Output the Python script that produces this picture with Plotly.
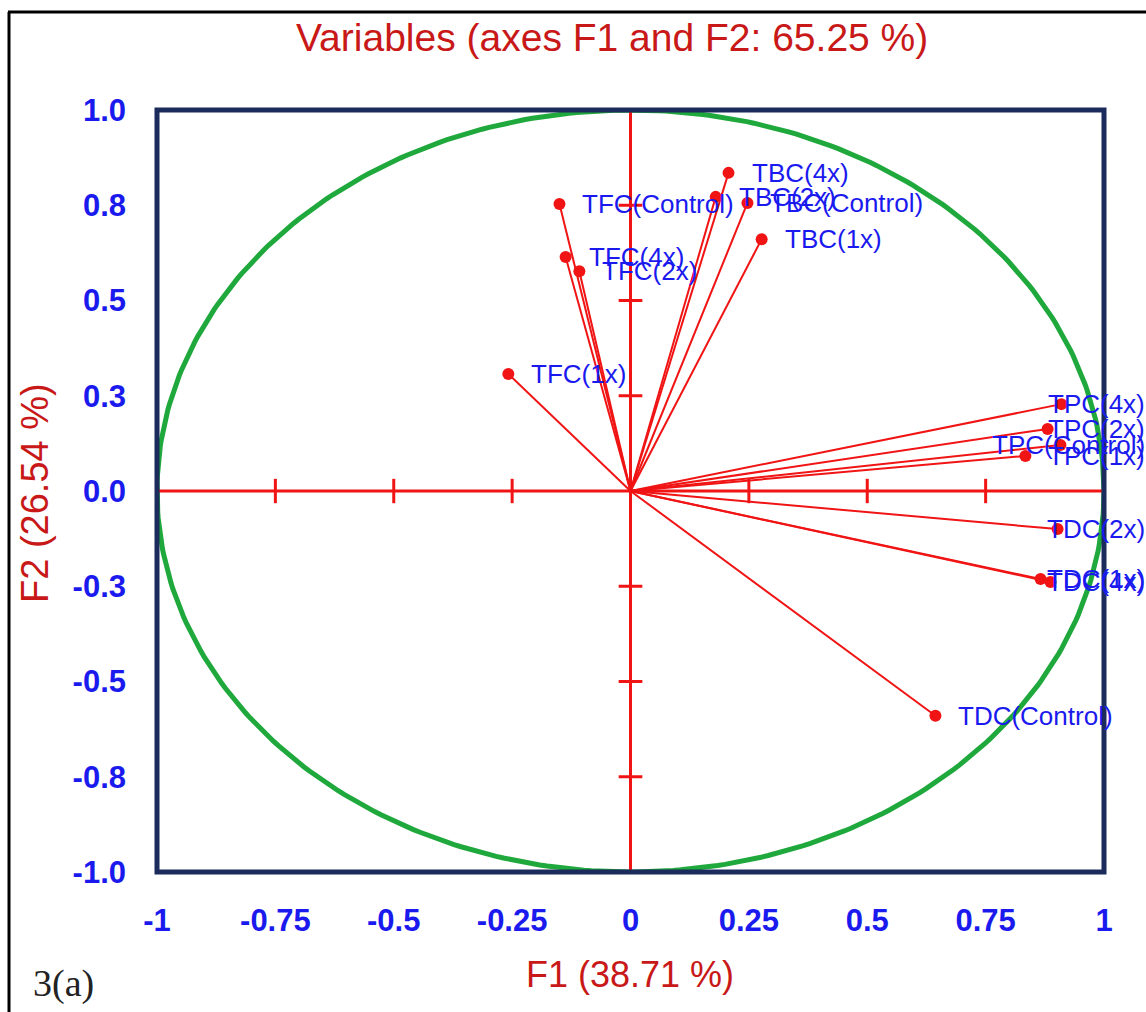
import plotly.graph_objects as go
import numpy as np

# ---- data ----
variables = ["TBC(4x)", "TBC(2x)", "TBC(Control)", "TBC(1x)",
             "TFC(Control)", "TFC(4x)", "TFC(2x)", "TFC(1x)",
             "TPC(4x)", "TPC(2x)", "TPC(Control)", "TPC(1x)",
             "TDC(2x)", "TDC(1x)", "TDC(4x)", "TDC(Control)"]
f1 = [0.207, 0.180, 0.247, 0.277,
      -0.150, -0.137, -0.108, -0.258,
      0.910, 0.881, 0.908, 0.834,
      0.902, 0.866, 0.887, 0.644]
f2 = [0.835, 0.772, 0.756, 0.661,
      0.753, 0.614, 0.577, 0.307,
      0.228, 0.163, 0.121, 0.092,
      -0.100, -0.231, -0.239, -0.590]
edge_labels = ["TPC(4x)", "TPC(2x)", "TPC(Control)", "TPC(1x)",
               "TDC(2x)", "TDC(1x)", "TDC(4x)"]

x_ticks = [-1, -0.75, -0.5, -0.25, 0, 0.25, 0.5, 0.75, 1]
x_ticktext = ["-1", "-0.75", "-0.5", "-0.25", "0", "0.25", "0.5", "0.75", "1"]
y_ticks = [-1, -0.75, -0.5, -0.25, 0, 0.25, 0.5, 0.75, 1]
y_ticktext = ["-1.0", "-0.8", "-0.5", "-0.3", "0.0", "0.3", "0.5", "0.8", "1.0"]
inner_ticks = [-0.75, -0.5, -0.25, 0.25, 0.5, 0.75]

title_text = "Variables (axes F1 and F2: 65.25 %)"
x_title = "F1 (38.71 %)"
y_title = "F2 (26.54 %)"

RED = "#f01414"
DARKRED = "#c81818"
BLUE = "#1a1aee"
GREEN = "#1fa83c"
NAVY = "#1b2b5c"

W, H = 1146, 1012
L, R, T, B = 157, 42, 110, 140
pw, ph = W - L - R, H - T - B

def px(xp):
    return (xp - L) / pw

def py(yp):
    return (H - B - yp) / ph

fig = go.Figure()

# unit circle
th = np.linspace(0, 2 * np.pi, 400)
fig.add_trace(go.Scatter(x=np.cos(th), y=np.sin(th), mode="lines",
                         line=dict(color=GREEN, width=5), hoverinfo="skip"))

# red axes through origin
fig.add_trace(go.Scatter(x=[-1, 1, None, 0, 0], y=[0, 0, None, -1, 1], mode="lines",
                         line=dict(color=RED, width=3), hoverinfo="skip"))
# tick marks on the red axes
tx, ty = [], []
for t in inner_ticks:
    tx += [t, t, None]
    ty += [-0.032, 0.032, None]
    tx += [-0.025, 0.025, None]
    ty += [t, t, None]
fig.add_trace(go.Scatter(x=tx, y=ty, mode="lines",
                         line=dict(color=RED, width=3), hoverinfo="skip"))

# vectors
vx, vy = [], []
for a, b in zip(f1, f2):
    vx += [0, a, None]
    vy += [0, b, None]
fig.add_trace(go.Scatter(x=vx, y=vy, mode="lines",
                         line=dict(color=RED, width=2), hoverinfo="skip"))
fig.add_trace(go.Scatter(x=f1, y=f2, mode="markers",
                         marker=dict(color=RED, size=12), text=variables))

# labels
lab_font = dict(family="Arial, Liberation Sans", size=26, color=BLUE)
for name, a, b in zip(variables, f1, f2):
    if name in edge_labels:
        fig.add_annotation(x=1, y=b, xref="x", yref="y", text=name, showarrow=False,
                           xanchor="right", yanchor="middle", xshift=43, font=lab_font)
    else:
        fig.add_annotation(x=a, y=b, xref="x", yref="y", text=name, showarrow=False,
                           xanchor="left", yanchor="middle", xshift=21, font=lab_font)

# titles
fig.add_annotation(x=px(612), y=py(38), xref="paper", yref="paper", text=title_text,
                   showarrow=False, xanchor="center", yanchor="middle",
                   font=dict(family="Arial, Liberation Sans", size=39, color=DARKRED))
fig.add_annotation(x=px(630), y=py(975), xref="paper", yref="paper", text=x_title,
                   showarrow=False, xanchor="center", yanchor="middle",
                   font=dict(family="Arial, Liberation Sans", size=36, color=DARKRED))
fig.add_annotation(x=px(35), y=py(493), xref="paper", yref="paper", text=y_title,
                   showarrow=False, textangle=-90, xanchor="center", yanchor="middle",
                   font=dict(family="Arial, Liberation Sans", size=38, color=DARKRED))
fig.add_annotation(x=px(31), y=py(983), xref="paper", yref="paper", text="3(a)",
                   showarrow=False, xanchor="left", yanchor="middle",
                   font=dict(family="Liberation Serif, Times New Roman", size=38, color="#222222"))

# plot frame
fig.add_shape(type="rect", xref="paper", yref="paper", x0=0, y0=0, x1=1, y1=1,
              line=dict(color=NAVY, width=5), layer="above")
# outer black border (left + top)
fig.add_shape(type="line", xref="paper", yref="paper",
              x0=px(9), x1=px(9), y0=py(1015), y1=py(12),
              line=dict(color="black", width=3))
fig.add_shape(type="line", xref="paper", yref="paper",
              x0=px(8), x1=px(1150), y0=py(12), y1=py(12),
              line=dict(color="black", width=3))

tickfont = dict(family="Arial, Liberation Sans", size=31, color=BLUE, weight="bold")
fig.update_xaxes(range=[-1, 1], tickvals=x_ticks, ticktext=x_ticktext, showgrid=False,
                 zeroline=False, showline=False, ticks="", tickfont=tickfont,
                 ticklabelstandoff=27, fixedrange=True)
fig.update_yaxes(range=[-1, 1], tickvals=y_ticks, ticktext=y_ticktext, showgrid=False,
                 zeroline=False, showline=False, ticks="", tickfont=tickfont,
                 ticklabelstandoff=30, fixedrange=True)

fig.update_layout(width=W, height=H, margin=dict(l=L, r=R, t=T, b=B),
                  plot_bgcolor="white", paper_bgcolor="white", showlegend=False)

fig.write_html("out.html")
